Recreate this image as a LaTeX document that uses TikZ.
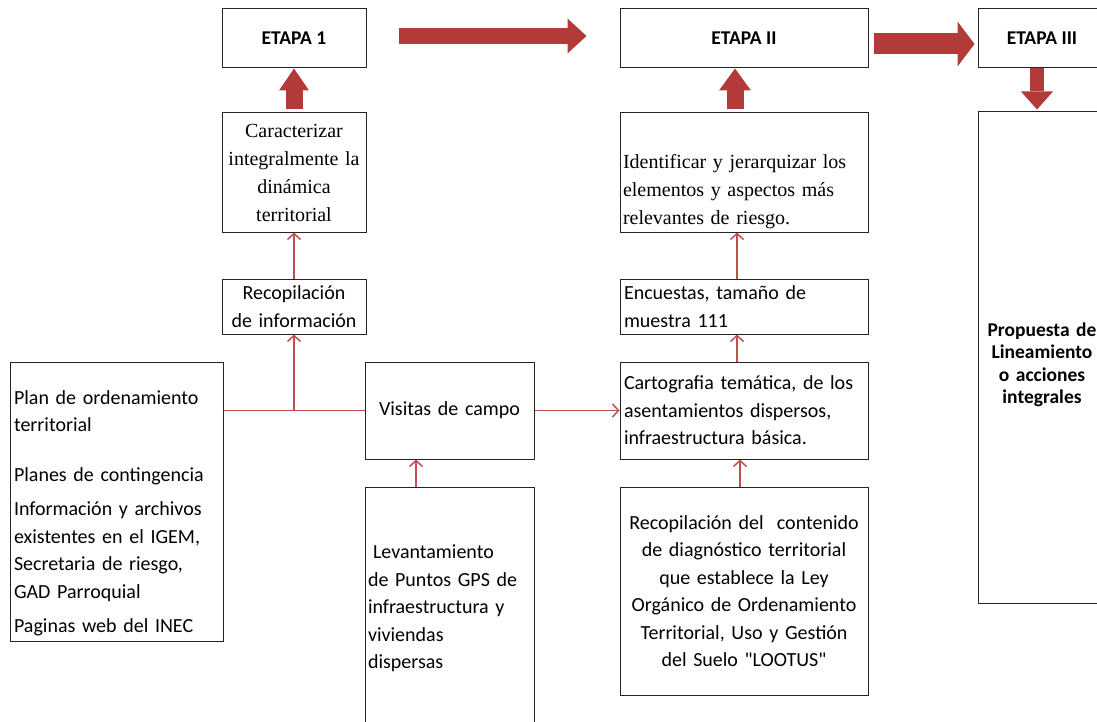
\documentclass[tikz,border=0pt]{standalone}
\usepackage{fontspec}
\setmainfont{Carlito}
\newfontfamily\timesfont{Liberation Serif}
\usetikzlibrary{arrows.meta}

\definecolor{arrred}{RGB}{192,80,77}
\definecolor{bigred}{RGB}{178,58,56}
\definecolor{boxline}{RGB}{35,35,35}

\begin{document}
\begin{tikzpicture}[x=1pt, y=-1pt,
    box/.style={draw=boxline, line width=1pt, inner xsep=3pt, inner ysep=2pt},
    cal/.style={box, font=\fontsize{20}{27.5}\selectfont},
    tim/.style={box, font=\timesfont\fontsize{20}{28}\selectfont},
    etapa/.style={box, font=\bfseries\fontsize{19.5}{22}\selectfont, minimum height=59},
    arr/.style={draw=arrred, line width=1.5pt, -{Straight Barb[length=6pt,width=13pt]}},
    bigarrow/.style={draw=bigred, line width=16pt, -{Triangle[length=19pt,width=35pt,line width=0pt]}}]
  \useasboundingbox (0,0) rectangle (1097,722);

  % etapas
  \node [etapa, minimum width=144] (etapa1) at (294,38.5) {ETAPA 1};
  \node [etapa, minimum width=248] (etapa2) at (744,38.5) {ETAPA II};
  \node [etapa, minimum width=128] (etapa3) at (1042,38.5) {ETAPA III};

  % columna 1
  \node [tim, minimum width=144, minimum height=119, text width=138, align=center] (caract) at (294,172.5)
    {Caracterizar\\integralmente la\\dinámica\\territorial};
  \node [cal, minimum width=144, minimum height=55, text width=138, align=center] (recinfo) at (294,306.5)
    {Recopilación\\de información};
  \node [cal, minimum width=213, minimum height=279, text width=205, inner xsep=4pt, align=left] (fuentes) at (116.5,501.5)
    {\rule{0pt}{37pt}Plan de ordenamiento\\territorial\\[22pt]Planes de contingencia\\[7pt]Información y archivos\\existentes en el IGEM,\\Secretaria de riesgo,\\GAD Parroquial\\[7pt]Paginas web del INEC};

  % columna 2
  \node [cal, minimum width=169, minimum height=97, text width=163, align=center] (visitas) at (449.5,410.5)
    {Visitas de campo};
  \node [cal, minimum width=169, minimum height=243, text width=163, align=left] (levant) at (449.5,608.5)
    {\hspace*{5pt}Levantamiento\\de Puntos GPS de\\infraestructura y\\viviendas\\dispersas};

  % columna 3
  \node [tim, minimum width=248, minimum height=119, text width=242, align=left] (identif) at (744,172.5)
    {\rule{0pt}{53pt}Identificar y jerarquizar los\\elementos y aspectos más\\relevantes de riesgo.};
  \node [cal, minimum width=248, minimum height=55, text width=240, inner xsep=4pt, align=left] (encuestas) at (744,306.5)
    {Encuestas, tamaño de\\muestra 111};
  \node [cal, minimum width=248, minimum height=97, text width=240, inner xsep=4pt, align=left] (carto) at (744,410.5)
    {Cartografia temática, de los\\asentamientos dispersos,\\infraestructura básica.};
  \node [cal, minimum width=248, minimum height=208, text width=242, align=center] (recdiag) at (744,591)
    {Recopilación del~ contenido\\de diagnóstico territorial\\que establece la Ley\\Orgánico de Ordenamiento\\Territorial, Uso y Gestión\\del Suelo \textquotedbl LOOTUS\textquotedbl};

  % columna 4
  \node [box, minimum width=128, minimum height=491, text width=122, align=center,
    font=\bfseries\fontsize{19.5}{22.5}\selectfont] (propuesta) at (1042,357.5)
    {\rule{0pt}{28pt}Propuesta de\\Lineamiento\\o acciones\\integrales};

  % flechas gruesas
  \draw [bigarrow, shorten <=32pt, shorten >=33pt] ([yshift=2.5]etapa1.east) -- ([yshift=2.5]etapa2.west);
  \draw [bigarrow, line width=21pt, -{Triangle[length=17pt,width=45pt,line width=0pt]}, shorten <=5pt, shorten >=3pt]
    ([yshift=-5.5]etapa2.east) -- ([yshift=-5.5]etapa3.west);
  \draw [bigarrow, line width=17pt, -{Triangle[length=22pt,width=30pt,line width=0pt]}, shorten <=3pt] (caract) -- (etapa1);
  \draw [bigarrow, line width=17pt, -{Triangle[length=22pt,width=32pt,line width=0pt]}, shorten <=3pt]
    ([xshift=-9]identif.north) -- ([xshift=-9]etapa2.south);
  \draw [bigarrow, line width=14pt, -{Triangle[length=18pt,width=32pt,line width=0pt]}, shorten >=2pt]
    ([xshift=-5]etapa3.south) -- ([xshift=-5]propuesta.north);

  % flechas finas
  \coordinate (junc) at (recinfo.south |- visitas.west);
  \draw [draw=arrred, line width=1.5pt] (fuentes.east |- visitas.west) -- (visitas.west);
  \draw [arr] (junc) -- (recinfo);
  \draw [arr] (recinfo) -- (caract);
  \draw [arr] (visitas) -- (carto);
  \draw [arr] ([xshift=-33.5]levant.north) -- ([xshift=-33.5]visitas.south);
  \draw [arr] ([xshift=-4]recdiag.north) -- ([xshift=-4]carto.south);
  \draw [arr] ([xshift=-7]carto.north) -- ([xshift=-7]encuestas.south);
  \draw [arr] ([xshift=-7]encuestas.north) -- ([xshift=-7]identif.south);
\end{tikzpicture}
\end{document}
